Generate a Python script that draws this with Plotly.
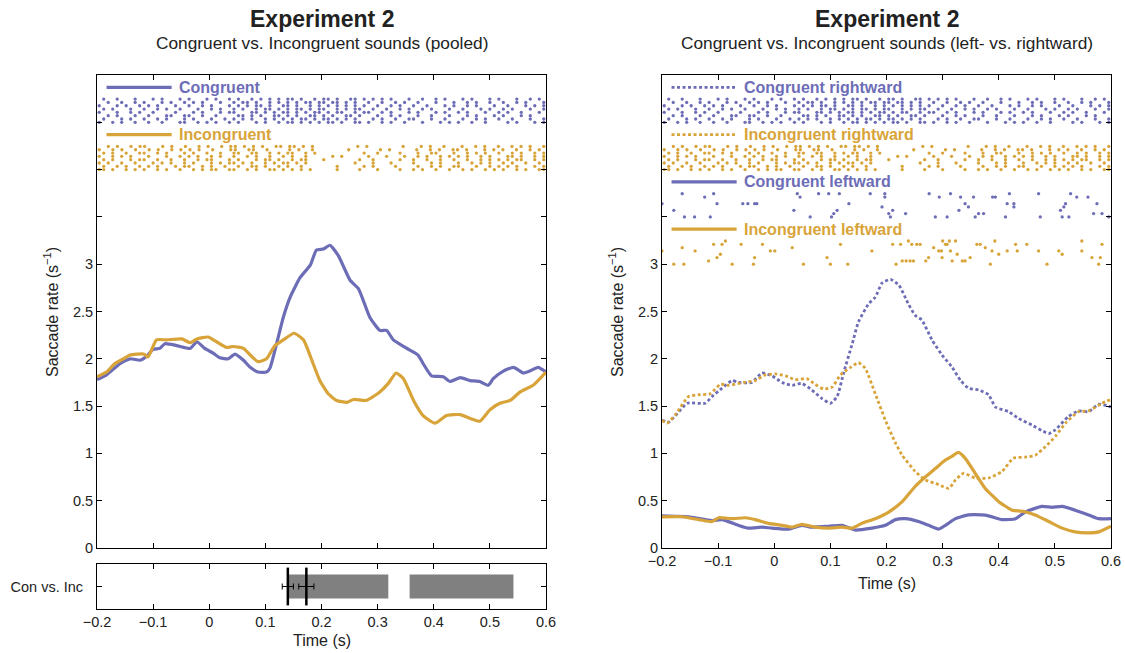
import plotly.graph_objects as go

# ---------------- data ----------------
# Left panel (pooled) rate curves
t_pool_con = [-0.2, -0.183, -0.159, -0.141, -0.123, -0.111, -0.1, -0.088, -0.079, -0.058, -0.034, -0.022, -0.008,
              0.007, 0.019, 0.034, 0.046, 0.061, 0.073, 0.087, 0.102, 0.108, 0.12, 0.132, 0.144, 0.162, 0.180, 0.191,
              0.203, 0.215, 0.23, 0.251, 0.266, 0.286, 0.304, 0.316, 0.328, 0.352, 0.372, 0.381, 0.396, 0.417, 0.429,
              0.447, 0.465, 0.482, 0.497, 0.506, 0.524, 0.542, 0.56, 0.571, 0.586, 0.6]
r_pool_con = [1.78, 1.83, 1.95, 2.0, 1.985, 2.03, 2.10, 2.11, 2.16, 2.14, 2.11, 2.18, 2.11, 2.06, 2.01, 2.0, 2.05,
              1.985, 1.91, 1.86, 1.86, 1.90, 2.16, 2.44, 2.65, 2.86, 2.99, 3.15, 3.16, 3.20, 3.09, 2.83, 2.74, 2.44,
              2.30, 2.30, 2.20, 2.11, 2.04, 1.95, 1.82, 1.81, 1.76, 1.80, 1.77, 1.76, 1.72, 1.79, 1.87, 1.91, 1.85,
              1.87, 1.91, 1.86]
t_pool_inc = [-0.2, -0.183, -0.168, -0.153, -0.141, -0.117, -0.109, -0.094, -0.076, -0.049, -0.034, -0.022, -0.002,
              0.013, 0.031, 0.043, 0.061, 0.073, 0.087, 0.102, 0.117, 0.132, 0.151, 0.168, 0.185, 0.197, 0.212, 0.227,
              0.245, 0.257, 0.28, 0.304, 0.319, 0.333, 0.346, 0.364, 0.381, 0.402, 0.423, 0.447, 0.465, 0.482, 0.5,
              0.518, 0.536, 0.554, 0.577, 0.6]
r_pool_inc = [1.81, 1.86, 1.95, 2.0, 2.04, 2.05, 2.02, 2.20, 2.20, 2.21, 2.17, 2.21, 2.23, 2.18, 2.12, 2.13, 2.11,
              2.04, 1.97, 2.0, 2.14, 2.20, 2.27, 2.20, 1.95, 1.77, 1.63, 1.56, 1.54, 1.57, 1.56, 1.65, 1.74, 1.85,
              1.79, 1.56, 1.40, 1.32, 1.40, 1.41, 1.37, 1.34, 1.46, 1.53, 1.56, 1.65, 1.72, 1.86]

# Right panel (left- vs rightward) rate curves
t_con_right = [-0.2, -0.188, -0.176, -0.155, -0.123, -0.111, -0.093, -0.075, -0.064, -0.04, -0.022, -0.004, 0.014,
               0.032, 0.049, 0.067, 0.085, 0.1, 0.112, 0.124, 0.139, 0.150, 0.168, 0.180, 0.192, 0.207, 0.222, 0.239,
               0.251, 0.263, 0.281, 0.299, 0.317, 0.332, 0.346, 0.364, 0.382, 0.394, 0.418, 0.435, 0.459, 0.477,
               0.489, 0.501, 0.524, 0.542, 0.56, 0.578, 0.6]
r_con_right = [1.35, 1.33, 1.40, 1.53, 1.53, 1.60, 1.69, 1.77, 1.75, 1.75, 1.85, 1.82, 1.75, 1.72, 1.74, 1.67, 1.58,
               1.53, 1.60, 1.86, 2.16, 2.39, 2.58, 2.65, 2.80, 2.84, 2.78, 2.58, 2.46, 2.41, 2.20, 2.04, 1.91, 1.77,
               1.69, 1.67, 1.62, 1.49, 1.44, 1.37, 1.30, 1.24, 1.21, 1.25, 1.39, 1.45, 1.44, 1.52, 1.49]
t_inc_right = [-0.2, -0.191, -0.176, -0.153, -0.135, -0.114, -0.096, -0.081, -0.055, -0.034, -0.016, 0.002, 0.02,
               0.037, 0.058, 0.073, 0.088, 0.103, 0.118, 0.136, 0.150, 0.162, 0.180, 0.198, 0.216, 0.228, 0.251,
               0.269, 0.293, 0.311, 0.323, 0.337, 0.358, 0.382, 0.406, 0.426, 0.447, 0.465, 0.483, 0.501, 0.519,
               0.542, 0.56, 0.584, 0.6]
r_inc_right = [1.35, 1.32, 1.41, 1.60, 1.62, 1.63, 1.73, 1.72, 1.75, 1.77, 1.83, 1.84, 1.82, 1.78, 1.79, 1.73, 1.68,
               1.70, 1.83, 1.91, 1.96, 1.90, 1.63, 1.35, 1.11, 0.98, 0.81, 0.72, 0.67, 0.63, 0.72, 0.79, 0.74, 0.74,
               0.81, 0.95, 0.96, 0.98, 1.07, 1.18, 1.32, 1.44, 1.45, 1.53, 1.57]
t_con_left = [-0.2, -0.153, -0.111, -0.093, -0.064, -0.046, -0.022, -0.004, 0.026, 0.049, 0.067, 0.097, 0.121, 0.144,
              0.174, 0.198, 0.216, 0.234, 0.257, 0.275, 0.293, 0.305, 0.323, 0.346, 0.37, 0.382, 0.406, 0.43, 0.447,
              0.477, 0.495, 0.513, 0.536, 0.56, 0.578, 0.6]
r_con_left = [0.34, 0.33, 0.29, 0.30, 0.24, 0.21, 0.22, 0.21, 0.20, 0.24, 0.22, 0.23, 0.24, 0.19, 0.21, 0.24, 0.30,
              0.31, 0.28, 0.24, 0.20, 0.24, 0.31, 0.35, 0.35, 0.34, 0.30, 0.31, 0.38, 0.44, 0.43, 0.44, 0.40, 0.35,
              0.31, 0.31]
t_inc_left = [-0.2, -0.164, -0.135, -0.111, -0.099, -0.075, -0.052, -0.034, -0.01, 0.014, 0.032, 0.049, 0.073, 0.097,
              0.121, 0.139, 0.156, 0.18, 0.204, 0.228, 0.251, 0.269, 0.287, 0.305, 0.317, 0.328, 0.34, 0.358, 0.376,
              0.4, 0.424, 0.441, 0.465, 0.489, 0.513, 0.536, 0.56, 0.578, 0.6]
r_inc_left = [0.33, 0.33, 0.30, 0.28, 0.32, 0.31, 0.32, 0.30, 0.26, 0.24, 0.22, 0.25, 0.22, 0.21, 0.22, 0.21, 0.26,
              0.31, 0.38, 0.49, 0.65, 0.75, 0.84, 0.93, 0.97, 1.01, 0.95, 0.79, 0.63, 0.49, 0.40, 0.39, 0.35, 0.28,
              0.21, 0.17, 0.16, 0.17, 0.23]

# Raster (saccade onsets), dense sets as per-trial rows of time bins ('o' = saccade), -0.2..0.6 s
raster_con_rows = [
    "o..o.o..o..o..o...oo..o.o.o..o.o...o.o..o.oo.o.o.o.oo.o..oo.o..o.o..o...o...o.o.o..o..o....o.o...o.o",
    ".o...o.o..o..o.o...o.o...o..o.o.o.o..o.o.o.o.oo.o.oo.o.o.o...o.o..o..oo...o..o...o..o.o..o..o...o..o",
    "..o.o...o..o...oo..oo..o..o....oo.o.o..oo.o.o..oo.o.o..oo.o...o..o.o...o..o...o...o.o...o.o...o.o...",
    "o...o..o.o..o....o...o.o...o.oo...oo.o.o.oo.o.o.oo.o.oo..o.oo..o.o...o.o...o.o..o.o...o..o.o..o...o.",
    ".o.o...o..o..o.o..o...o..o.o..o.o..o.oo.o.o.oo.o.oo..o.o.oo..o..o..o.o..o.o...o..o...o.o..o.o...o..o",
    "o...o.o..o.o.o...o..o..o.o...o.o.o.oo.o..oo.o..o.o.o.o.o.o.o..o..o.o..o..o...o.o..o.o...o..o...o.o.o",
    "..o..o..o.o...o.o..o.o.o...o..o.oo.o..o.o.o.o.oo.oo.oo.o.o..o..o..o.o..o...o...o..o.o..o..o..o.o...o",
    ".o..o...o...o.o...o.o...o.o..o.o..o.o.o.o.oo.o..o.oo.o..oo.o.o.o.o...o..o..o.o...o.o...o.o...o..o.o.",
]
raster_inc_rows = [
    "oo.o..o.o.o..o.o..o..o.o.oo..oo..o.o..oo.o.o.o.o.....o....o...o....o..o.o..o..o..o.o..o.o.o..o.o..oo",
    ".o..o.o..o.o.o...o.oo..o.o..o..o..oo.o..o.o..o.......o.....o.o....o....o..o.o..oo...o..o.o.o.o...o.o",
    "o.o..o..o...o.o.o..o.o...o.o.oo.o.o..o.o.oo.o.o..........o...o...o....o...o.o...o..o.o.o..o.o..o..o.",
    ".o.o...o.oo..o..o..o..o.oo...o.o...o.oo.o..o.oo...o.......o..o.....o..o..o..o..o..o..o.o.o.o.oo..o.o",
    "o..o.o.o...o...o..o.o.o..o.o..o..o.o..o..o.o..o.....o.o.....o...o...o..o.o..o.o.o.o..o.o...oo.o..o.o",
    ".o.o..o..oo..o.o...o.o..o..o..oo..oo..o.o.oo..o.o..........o..o....o...o..oo...o..o.o.o..o..o.o..o.o",
    "o..o.o..o..o.o..o.o.o.o..o...oo..oo..o....o.o..o.......o......o.o.....o..o.o..oo.o...o.o.o..o..o.o.",
    "..o.o..o.oo...o.o..o..o.o..o.oo.o.o.o..oo.oo.o.o.........o.o.......o...o.o..o...o..o.o..o..o.o.o..o",
]
# Sparse rasters: saccade time (s) and trial row
sac_con_left_t = [-0.200, -0.179, -0.164, -0.160, -0.142, -0.124, -0.114, -0.108, -0.102, -0.056, -0.047, -0.035,
                  -0.031, 0.035, 0.041, 0.046, 0.064, 0.079, 0.097, 0.102, 0.106, 0.112, 0.116, 0.133, 0.171, 0.192,
                  0.197, 0.197, 0.204, 0.207, 0.211, 0.234, 0.276, 0.287, 0.294, 0.308, 0.314, 0.329, 0.332, 0.340,
                  0.346, 0.355, 0.358, 0.364, 0.373, 0.389, 0.394, 0.412, 0.415, 0.419, 0.427, 0.427, 0.471, 0.474,
                  0.510, 0.513, 0.516, 0.519, 0.525, 0.528, 0.539, 0.559, 0.569, 0.575, 0.584, 0.596]
sac_con_left_row = [4, 2, 7, 0, 0, 6, 0, 7, 4, 4, 4, 4, 4, 2, 7, 6, 0, 7, 7, 0, 1, 2, 7, 4, 7, 3, 7, 6, 1, 0, 2, 1,
                    7, 0, 6, 0, 7, 2, 6, 4, 3, 6, 0, 1, 1, 6, 6, 0, 4, 7, 4, 3, 7, 0, 2, 0, 3, 4, 0, 7, 6, 6, 1, 4,
                    1, 0]
sac_inc_left_t = [-0.200, -0.179, -0.164, -0.161, -0.141, -0.117, -0.108, -0.102, -0.096, -0.093, -0.087, -0.075,
                  -0.059, -0.037, -0.035, -0.021, -0.007, 0.001, 0.032, 0.052, 0.094, 0.100, 0.118, 0.131, 0.174,
                  0.211, 0.217, 0.225, 0.228, 0.235, 0.239, 0.242, 0.245, 0.248, 0.254, 0.260, 0.270, 0.275, 0.284,
                  0.293, 0.298, 0.299, 0.300, 0.305, 0.308, 0.312, 0.314, 0.317, 0.323, 0.326, 0.335, 0.340, 0.349,
                  0.361, 0.367, 0.376, 0.385, 0.388, 0.393, 0.400, 0.415, 0.430, 0.433, 0.450, 0.471, 0.486, 0.507,
                  0.513, 0.548, 0.548, 0.566, 0.578, 0.581, 0.584]
sac_inc_left_row = [4, 0, 5, 0, 4, 1, 6, 2, 3, 6, 7, 0, 6, 0, 2, 6, 4, 4, 5, 0, 2, 0, 6, 0, 4, 6, 0, 6, 1, 1, 7, 1,
                    6, 1, 6, 6, 1, 2, 5, 4, 4, 2, 7, 6, 6, 7, 4, 1, 7, 3, 1, 1, 2, 6, 6, 5, 0, 4, 7, 3, 4, 6, 4, 6,
                    4, 0, 4, 3, 7, 4, 2, 0, 2, 6]

# Significance bar (Con vs. Inc)
sig_start = [0.140, 0.357]
sig_end = [0.319, 0.542]
onset_est = [0.140, 0.173]
onset_err = [0.010, 0.0135]

x_ticks = [-0.2, -0.1, 0, 0.1, 0.2, 0.3, 0.4, 0.5, 0.6]
x_ticktext = ["\u22120.2", "\u22120.1", "0", "0.1", "0.2", "0.3", "0.4", "0.5", "0.6"]
y_ticks = [0, 0.5, 1, 1.5, 2, 2.5, 3]
y_ticktext = ["0", "0.5", "1", "1.5", "2", "2.5", "3"]
y_minor_ticks = [3.5, 4, 4.5]

# ---------------- styling ----------------
W, H = 1125, 653
BLUE = "#6D6DB7"
GOLD = "#D8A43A"
FONT = "Liberation Sans, Arial, Helvetica, sans-serif"
TXT = "#222222"
ROW_STEP = 0.035


def px(x):
    return x / W


def py(y):
    return 1 - y / H


def dense_raster(rows, base):
    xs, ys = [], []
    for r, s in enumerate(rows):
        n = len(s)
        for i, c in enumerate(s):
            if c == "o":
                xs.append(-0.2 + (i + 0.5) * 0.8 / n)
                ys.append(base + r * ROW_STEP)
    return xs, ys


def sparse_raster(ts, rows, base):
    return ts, [base + r * ROW_STEP for r in rows]


fig = go.Figure()


def add_raster(xs, ys, color, xa, ya):
    fig.add_trace(go.Scatter(x=xs, y=ys, mode="markers", xaxis=xa, yaxis=ya, showlegend=False,
                             marker=dict(size=3.3, color=color, line=dict(width=0)), hoverinfo="skip"))


def add_curve(t, r, color, dash, xa, ya):
    fig.add_trace(go.Scatter(x=t, y=r, mode="lines", xaxis=xa, yaxis=ya, showlegend=False,
                             line=dict(color=color, width=3.2 if dash == "solid" else 2.8, dash=dash,
                                       shape="spline", smoothing=0.5)))


# left panel rasters
cx, cy = dense_raster(raster_con_rows, 4.5)
ix, iy = dense_raster(raster_inc_rows, 4.0)
add_raster(cx, cy, BLUE, "x", "y")
add_raster(ix, iy, GOLD, "x", "y")
add_curve(t_pool_con, r_pool_con, BLUE, "solid", "x", "y")
add_curve(t_pool_inc, r_pool_inc, GOLD, "solid", "x", "y")

# right panel rasters
add_raster(cx, cy, BLUE, "x3", "y3")
add_raster(ix, iy, GOLD, "x3", "y3")
lx, ly = sparse_raster(sac_con_left_t, sac_con_left_row, 3.5)
add_raster(lx, ly, BLUE, "x3", "y3")
lx, ly = sparse_raster(sac_inc_left_t, sac_inc_left_row, 3.0)
add_raster(lx, ly, GOLD, "x3", "y3")
add_curve(t_con_right, r_con_right, BLUE, "3px,2.5px", "x3", "y3")
add_curve(t_inc_right, r_inc_right, GOLD, "3px,2.5px", "x3", "y3")
add_curve(t_con_left, r_con_left, BLUE, "solid", "x3", "y3")
add_curve(t_inc_left, r_inc_left, GOLD, "solid", "x3", "y3")

# significance panel
fig.add_trace(go.Bar(y=[0] * len(sig_start), x=[e - s for s, e in zip(sig_start, sig_end)], base=sig_start,
                     orientation="h", width=1.07, marker=dict(color="#808080", line=dict(width=0)),
                     xaxis="x2", yaxis="y2", showlegend=False))
fig.add_trace(go.Scatter(x=onset_est, y=[0] * len(onset_est), mode="markers", xaxis="x2", yaxis="y2",
                         showlegend=False,
                         marker=dict(symbol="line-ns", size=27, line=dict(width=2.5, color="black")),
                         error_x=dict(type="data", array=onset_err, color="black", thickness=1, width=3)))

# axes
common = dict(showline=True, linecolor="black", linewidth=1, mirror="ticks", ticks="inside", ticklen=5,
              tickcolor="black", showgrid=False, zeroline=False, automargin=False,
              tickfont=dict(family=FONT, size=14.5, color=TXT))
minor = dict(tickmode="array", tickvals=y_minor_ticks, ticks="inside", ticklen=5, tickcolor="black", showgrid=False)
Lx0, Lx1 = px(97), px(546)
Rx0, Rx1 = px(662), px(1111)
main_y = [py(548), py(75)]

fig.update_layout(
    width=W, height=H, margin=dict(l=0, r=0, t=0, b=0, autoexpand=False),
    paper_bgcolor="white", plot_bgcolor="white", barmode="overlay", showlegend=False,
    xaxis=dict(domain=[Lx0, Lx1], anchor="y", range=[-0.2, 0.6], tickvals=x_ticks, showticklabels=False, **common),
    yaxis=dict(domain=main_y, anchor="x", range=[0, 5], tickvals=y_ticks, ticktext=y_ticktext, minor=minor,
               **common),
    xaxis2=dict(domain=[Lx0, Lx1], anchor="y2", range=[-0.2, 0.6], tickvals=x_ticks, ticktext=x_ticktext,
                **common),
    yaxis2=dict(domain=[py(609), py(564)], anchor="x2", range=[-1, 1], tickvals=[0], ticktext=["Con vs. Inc"],
                ticklabelstandoff=10, **common),
    xaxis3=dict(domain=[Rx0, Rx1], anchor="y3", range=[-0.2, 0.6], tickvals=x_ticks, ticktext=x_ticktext,
                **common),
    yaxis3=dict(domain=main_y, anchor="x3", range=[0, 5], tickvals=y_ticks, ticktext=y_ticktext, minor=minor,
                **common),
)


# legends (drawn inside the axes)
def legend_item(label, color, dash, yv, xr, yr):
    fig.add_shape(type="line", xref=xr, yref=yr, x0=-0.183, x1=-0.067, y0=yv, y1=yv,
                  line=dict(color=color, width=3.2 if dash == "solid" else 2.8, dash=dash))
    fig.add_annotation(x=-0.058, y=yv, xref=xr, yref=yr, text="<b>%s</b>" % label, showarrow=False,
                       xanchor="left", yanchor="middle", font=dict(family=FONT, size=16, color=color))


legend_item("Congruent", BLUE, "solid", 4.87, "x", "y")
legend_item("Incongruent", GOLD, "solid", 4.37, "x", "y")
legend_item("Congruent rightward", BLUE, "3px,2.5px", 4.87, "x3", "y3")
legend_item("Incongruent rightward", GOLD, "3px,2.5px", 4.37, "x3", "y3")
legend_item("Congruent leftward", BLUE, "solid", 3.87, "x3", "y3")
legend_item("Incongruent leftward", GOLD, "solid", 3.37, "x3", "y3")


# titles & axis labels
def text(x, y, s, size, bold=False, angle=0):
    fig.add_annotation(x=px(x), y=py(y), xref="paper", yref="paper", text=("<b>%s</b>" % s) if bold else s,
                       showarrow=False, xanchor="center", yanchor="middle", textangle=angle,
                       font=dict(family=FONT, size=size, color=TXT))


text(321.5, 19, "Experiment 2", 23, bold=True)
text(321.5, 43, "Congruent vs. Incongruent sounds (pooled)", 17.3)
text(886.5, 19, "Experiment 2", 23, bold=True)
text(886.5, 43, "Congruent vs. Incongruent sounds (left- vs. rightward)", 17.3)
text(51, 312, "Saccade rate (s<sup>\u22121</sup>)", 16, angle=-90)
text(616, 312, "Saccade rate (s<sup>\u22121</sup>)", 16, angle=-90)
text(321.5, 640, "Time (s)", 16)
text(886.5, 583, "Time (s)", 16)

fig.write_html("out.html", config={"displayModeBar": False},
               post_script="document.body.style.margin='0';document.body.style.overflow='hidden';")
